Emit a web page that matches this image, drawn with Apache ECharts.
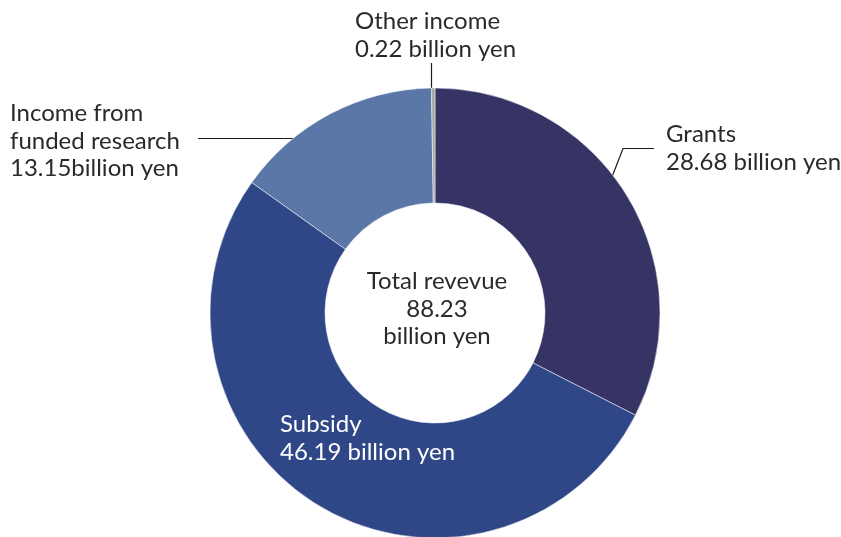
<!DOCTYPE html>
<html>
<head>
<meta charset="utf-8">
<style>
  html, body { margin: 0; padding: 0; background: #fff; }
  #chart { width: 841px; height: 537px; }
</style>
<script src="https://cdn.jsdelivr.net/npm/echarts@6/dist/echarts.min.js"></script>
</head>
<body>
<div id="chart"></div>
<script>
// Revenue breakdown (billion yen)
const categories = ['Grants', 'Subsidy', 'Income from\nfunded research', 'Other income'];
const values = [28.68, 46.19, 13.15, 0.22];
const valueSuffix = [' billion yen', ' billion yen', 'billion yen', ' billion yen'];
const sliceColors = ['#353464', '#2f4787', '#5a77a8', '#a6a6a6'];
const totalRevenue = 88.23;
const centerLines = ['Total revevue', totalRevenue.toFixed(2), 'billion yen'];

const FONT = 'Lato, "Open Sans", sans-serif';
const FONT_SIZE = 24;
const LINE_HEIGHT = 27.5;
const TEXT_COLOR = '#2a2a2a';

// Where each slice's label block sits and how its leader line runs
const labelPlacement = [
  { x: 666, y: 121, line: [[605, 195], [623, 148.5], [654, 148.5]] },
  { x: 280, y: 411, line: null },
  { x: 10, y: 100, line: [[315, 138.5], [256, 138.5], [198, 138.5]] },
  { x: 355, y: 8, line: [[431.5, 95], [431.5, 80], [431.5, 63]] }
];

const chart = echarts.init(document.getElementById('chart'), null, { renderer: 'canvas' });

chart.setOption({
  animation: false,
  backgroundColor: '#ffffff',
  series: [{
    type: 'pie',
    center: [435, 313],
    radius: [110, 225],
    startAngle: 90,
    clockwise: true,
    avoidLabelOverlap: false,
    itemStyle: { borderColor: '#ffffff', borderWidth: 0.5 },
    label: {
      show: true,
      position: 'outside',
      fontFamily: FONT,
      fontSize: FONT_SIZE,
      lineHeight: LINE_HEIGHT,
      color: TEXT_COLOR,
      align: 'left',
      formatter: p => p.name + '\n' + values[p.dataIndex].toFixed(2) + valueSuffix[p.dataIndex]
    },
    labelLine: {
      show: true,
      lineStyle: { color: '#1a1a1a', width: 1.2 }
    },
    labelLayout: function (params) {
      const pl = labelPlacement[params.dataIndex];
      const out = { x: pl.x, y: pl.y, align: 'left', verticalAlign: 'top' };
      if (pl.line) out.labelLinePoints = pl.line;
      return out;
    },
    data: categories.map((name, i) => ({
      name: name,
      value: values[i],
      itemStyle: { color: sliceColors[i] },
      label: i === 1 ? { color: '#ffffff' } : undefined,
      labelLine: i === 1 ? { show: false } : undefined
    }))
  }],
  graphic: [{
    type: 'text',
    x: 437,
    y: 268,
    style: {
      text: centerLines.join('\n'),
      fontFamily: FONT,
      fontSize: FONT_SIZE,
      lineHeight: LINE_HEIGHT,
      fill: TEXT_COLOR,
      align: 'center',
      verticalAlign: 'top'
    }
  }]
});
</script>
</body>
</html>
